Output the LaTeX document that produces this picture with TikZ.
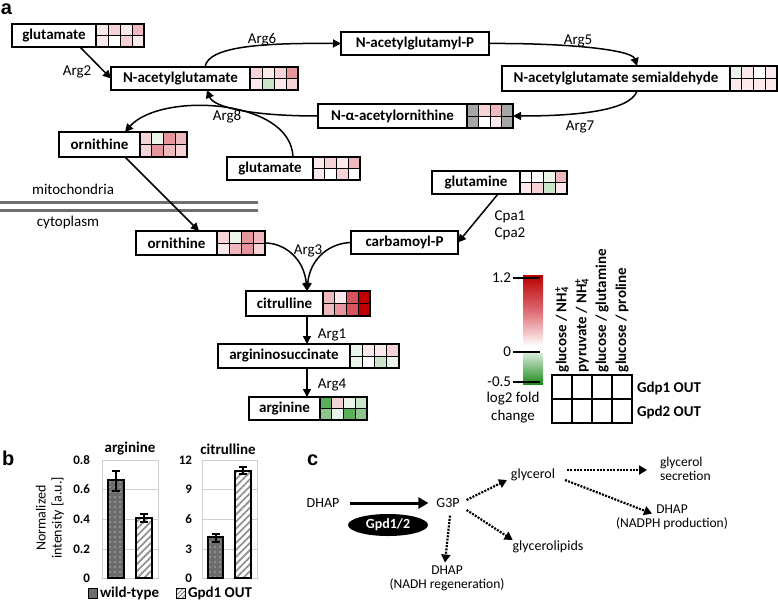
\documentclass[tikz,border=0pt]{standalone}
\usepackage{fontspec}
\setmainfont{Carlito}
\newfontfamily\lblfont{Liberation Sans}
\usetikzlibrary{arrows.meta,calc,patterns.meta,shapes.geometric}
\definecolor{r0}{HTML}{FFFFFF}
\definecolor{r1}{HTML}{FBE9EB}
\definecolor{r2}{HTML}{F5D3D6}
\definecolor{r3}{HTML}{EEB8BC}
\definecolor{r4}{HTML}{E5959B}
\definecolor{r5}{HTML}{D8535B}
\definecolor{r6}{HTML}{C00000}
\definecolor{g1}{HTML}{EAF4EA}
\definecolor{g2}{HTML}{CBE5CB}
\definecolor{g3}{HTML}{8DC68D}
\definecolor{g4}{HTML}{5AAE5A}
\definecolor{gr}{HTML}{A6A6A6}
\definecolor{membc}{HTML}{6E6E6E}
\definecolor{gridc}{HTML}{D0D0D0}
\definecolor{wtc}{HTML}{6E6B6B}
\definecolor{barT}{HTML}{B80000}
\definecolor{barM}{HTML}{DE6A72}
\definecolor{barG1}{HTML}{D8ECD8}
\definecolor{barG2}{HTML}{1F8A1F}
\newcommand\metab[6]{\node[mbox, minimum width={#3-#2}, minimum height={#5-#4}] (#1) at ({(#2+#3)/2},{(#4+#5)/2}) {#6};}
\newcommand\hmap[5]{%
  \foreach \c [count=\i from 0] in {#5}{%
    \pgfmathtruncatemacro\cc{mod(\i,4)}%
    \pgfmathtruncatemacro\rr{floor(\i/4)}%
    \fill[\c] ({#1+\cc*(#2-#1)/4},{#3+\rr*(#4-#3)/2}) rectangle ++({(#2-#1)/4},{(#4-#3)/2});
  }%
  \draw[line width=0.8pt] (#1,{(#3+#4)/2}) -- (#2,{(#3+#4)/2});
  \foreach \k in {1,2,3}{\draw[line width=0.8pt] ({#1+\k*(#2-#1)/4},#3) -- ({#1+\k*(#2-#1)/4},#4);}
  \draw[line width=1.5pt] (#1,#3) rectangle (#2,#4);
}
\begin{document}
\begin{tikzpicture}[x=1pt,y=-1pt,
  every node/.style={inner sep=0pt, outer sep=0pt},
  mbox/.style={draw, line width=1.5pt, fill=white, font=\fontsize{15}{17}\selectfont\bfseries},
  lab/.style={font=\fontsize{15}{15}\selectfont},
  clab/.style={font=\fontsize{14}{14}\selectfont},
  boldlab/.style={font=\fontsize{15}{17}\selectfont\bfseries},
  ticklab/.style={font=\fontsize{13}{14}\selectfont\bfseries, anchor=east},
  panel/.style={font=\lblfont\fontsize{20}{20}\selectfont\bfseries, anchor=base west},
  rxn/.style={line width=1.5pt, -{Triangle[length=8pt,width=8pt]}},
  memb/.style={line width=3pt, membc},
  tick/.style={line width=1.5pt},
  gframe/.style={gridc, line width=1pt},
  barout/.style={line width=2pt},
  wtpat/.style={pattern={Dots[distance=5pt,radius=0.55pt]}, pattern color=white},
  hatch/.style={pattern={Lines[angle=45,distance=5pt,line width=1.8pt]}, pattern color=gray!85},
  errb/.style={line width=2pt},
  bigarrow/.style={line width=3pt, -{Triangle[length=10pt,width=11pt]}},
  dotarrow/.style={line width=2.2pt, dash pattern=on 2pt off 1.3pt, -{Triangle[length=8pt,width=9pt]}},
  twoline/.style={font=\fontsize{13.5}{14}\selectfont}
]
\useasboundingbox (0,0) rectangle (778,602);

% ---------- panel a ----------
\node[panel] (pa) at (1,15) {a};

\metab{gluA}{12}{96}{24}{47}{glutamate}
\hmap{96}{144}{24}{47}{r1,r2,r1,r3,r1,r0,r2,r1}
\metab{nag}{111}{250}{67}{90}{N-acetylglutamate}
\hmap{250}{298}{67}{90}{r2,r1,r2,r4,r1,g2,r1,r2}
\metab{nagp}{341}{489}{32}{55}{N-acetylglutamyl-P}
\metab{nags}{502}{730}{66}{91}{N-acetylglutamate semialdehyde}
\hmap{730}{777}{66}{91}{g1,r1,r0,r1,r1,r1,r1,r1}
\metab{naao}{318}{467}{104}{128}{N-α-acetylornithine}
\hmap{467}{513}{104}{128}{gr,r2,r3,gr,gr,r0,r1,gr}
\metab{ornM}{59}{140}{132}{157}{ornithine}
\hmap{140}{187}{132}{157}{r2,g1,r4,r3,r2,r4,r3,r2}
\metab{gluB}{227}{313}{157}{180}{glutamate}
\hmap{313}{360}{157}{180}{r1,r2,r1,r3,r1,r0,r2,r0}
\metab{gln}{432}{520}{171}{194}{glutamine}
\hmap{520}{567}{171}{194}{r0,r0,g1,r3,r1,r2,g2,r1}
\metab{carb}{351}{458}{231}{254}{carbamoyl-P}
\metab{ornC}{136}{217}{231}{255}{ornithine}
\hmap{217}{265}{231}{255}{r2,g1,r4,r3,r1,r3,r4,r2}
\metab{cit}{246}{323}{291}{316}{citrulline}
\hmap{323}{370}{291}{316}{r3,r1,r5,r6,r3,r4,r5,r6}
\metab{asuc}{218}{350}{344}{368}{argininosuccinate}
\hmap{350}{399}{344}{368}{g1,r1,r1,r2,g1,r0,g2,g1}
\metab{arg}{249}{320}{397}{420}{arginine}
\hmap{320}{367}{397}{420}{g4,r2,g1,g2,g3,g1,g4,g3}

% membranes
\draw[memb] (0,202) -- (258,202);
\draw[memb] (0,210) -- (258,210);
\node[lab] (mito) at (73,189) {mitochondria};
\node[lab] (cyto) at (68,222) {cytoplasm};

% reactions
\draw[rxn] ($(gluA.south west)+(68,0)$) -- (nag.west);
\draw[rxn] ($(nag.north west)+(94,0)$) .. controls (208,45) and (270,43) .. (nagp.west);
\draw[rxn] (nagp.east) .. controls (570,43) and (632,50) .. ($(nags.north west)+(135,0)$);
\draw[rxn] ($(nags.south west)+(135,0)$) .. controls (630,112) and (570,116) .. ($(naao.east)+(46,0)$);
\draw[rxn] (naao.west) .. controls (255,116) and (214,108) .. ($(nag.south west)+(96,0)$);
\draw[rxn] ($(gluB.north west)+(66,0)$) .. controls (291,98) and (160,92) .. ($(ornM.north west)+(66,0)$);
\draw[rxn] ($(ornM.south west)+(66,0)$) -- ($(ornC.north west)+(63,0)$);
\draw[rxn] ($(gln.south west)+(66,0)$) -- (carb.east);
\coordinate (c3) at ($(cit.north west)+(61,0)$);
\draw[rxn] ($(ornC.east)+(48,0)$) .. controls (284,243) and (304,258) .. (c3);
\draw[rxn] (carb.west) .. controls (330,243) and (310,258) .. (c3);
\draw[rxn] ($(cit.south west)+(61,0)$) -- ($(asuc.north west)+(89,0)$);
\draw[rxn] ($(asuc.south west)+(89,0)$) -- ($(arg.north west)+(58,0)$);

\node[lab] (l2) at (77,72) {Arg2};
\node[lab] (l6) at (262,40) {Arg6};
\node[lab] (l5) at (578,41) {Arg5};
\node[lab] (l7) at (580,127) {Arg7};
\node[lab] (l8) at (227,117) {Arg8};
\node[lab] (l3) at (308,251) {Arg3};
\node[lab] (l1) at (332,335) {Arg1};
\node[lab] (l4) at (332,385) {Arg4};
\node[lab] (lc1) at (510,217) {Cpa1};
\node[lab] (lc2) at (510,234) {Cpa2};

% legend colour bar
\shade[top color=barT, bottom color=white, middle color=barM] (523,275) rectangle (543,346);
\fill[white] (523,346) rectangle (543,353);
\shade[top color=barG1, bottom color=barG2] (523,353) rectangle (543,384);
\draw[tick] (513,278) -- (540,278);
\draw[tick] (513,352) -- (540,352);
\draw[tick] (513,382) -- (540,382);
\node[lab, anchor=east] (t12) at (511,278) {1.2};
\node[lab, anchor=east] (t0) at (511,352) {0};
\node[lab, anchor=east] (t05) at (511,382) {-0.5};
\node[lab] (lfc1) at (513,399) {log2 fold};
\node[lab] (lfc2) at (513,417) {change};

\draw[tick] (552,375) rectangle (632,423);
\draw[tick] (572,375) -- (572,423);
\draw[tick] (592,375) -- (592,423);
\draw[tick] (612,375) -- (612,423);
\draw[tick] (552,399) -- (632,399);
\node[boldlab, rotate=90, anchor=west] (cl1) at (562,372) {glucose / NH\textsubscript{4}\llap{\textsuperscript{+}}};
\node[boldlab, rotate=90, anchor=west] (cl2) at (582,372) {pyruvate / NH\textsubscript{4}\llap{\textsuperscript{+}}};
\node[boldlab, rotate=90, anchor=west] (cl3) at (602,372) {glucose / glutamine};
\node[boldlab, rotate=90, anchor=west] (cl4) at (622,372) {glucose / proline};
\node[boldlab, anchor=west] (rw1) at (637,388) {Gdp1 OUT};
\node[boldlab, anchor=west] (rw2) at (637,412) {Gpd2 OUT};

% ---------- panel b ----------
\node[panel] (pb) at (2,465) {b};
\node[boldlab] (tb1) at (130,449) {arginine};
\node[boldlab] (tb2) at (228,449) {citrulline};
\node[font=\fontsize{14}{16}\selectfont, rotate=90, align=center] (ytit) at (50,518) {Normalized\\intensity [a.u.]};

\draw[gframe] (102,460) rectangle (158,578);
\draw[gframe] (202,460) rectangle (257,578);
\foreach \yy in {489,519,549}{
  \draw[gframe] (102,\yy) -- (158,\yy);
  \draw[gframe] (202,\yy) -- (257,\yy);
}
\node[ticklab] (a08) at (90,460) {0.8};
\node[ticklab] (a06) at (90,489) {0.6};
\node[ticklab] (a04) at (90,519) {0.4};
\node[ticklab] (a02) at (90,549) {0.2};
\node[ticklab] (a00) at (90,578) {0};
\node[ticklab] (b12) at (192,460) {12};
\node[ticklab] (b9) at (192,489) {9};
\node[ticklab] (b6) at (192,519) {6};
\node[ticklab] (b3) at (192,549) {3};
\node[ticklab] (b0) at (192,578) {0};

% bars
\fill[wtc] (108,480) rectangle (124,578);
\fill[wtpat] (108,480) rectangle (124,578);
\draw[barout] (108,480) rectangle (124,578);
\fill[white] (136,518) rectangle (152,578);
\fill[hatch] (136,518) rectangle (152,578);
\draw[barout] (136,518) rectangle (152,578);
\fill[wtc] (208,537) rectangle (223,578);
\fill[wtpat] (208,537) rectangle (223,578);
\draw[barout] (208,537) rectangle (223,578);
\fill[white] (235,471) rectangle (251,578);
\fill[hatch] (235,471) rectangle (251,578);
\draw[barout] (235,471) rectangle (251,578);

% error bars
\draw[errb] (116,471) -- (116,491) (112,471) -- (120,471) (112,491) -- (120,491);
\draw[errb] (144,514) -- (144,522) (140,514) -- (148,514) (140,522) -- (148,522);
\draw[errb] (215.5,534) -- (215.5,542) (211.5,534) -- (219.5,534) (211.5,542) -- (219.5,542);
\draw[errb] (243,467) -- (243,474) (239,467) -- (247,467) (239,474) -- (247,474);

% legend
\fill[wtc] (88,588) rectangle (97,598);
\draw[line width=1pt] (88,588) rectangle (97,598);
\node[boldlab, anchor=west] (lgw) at (100,593) {wild-type};
\fill[white] (176,588) rectangle (185,598);
\fill[pattern={Lines[angle=45,distance=3pt,line width=1pt]}, pattern color=gray] (176,588) rectangle (185,598);
\draw[line width=1pt] (176,588) rectangle (185,598);
\node[boldlab, anchor=west] (lgg) at (188,593) {Gpd1 OUT};

% ---------- panel c ----------
\node[panel] (pc) at (307,465) {c};
\node[clab] (dh1) at (323,503) {DHAP};
\node[clab] (g3p) at (448,503) {G3P};
\node[ellipse, fill=black, minimum width=80, minimum height=22, text=white, font=\fontsize{14}{16}\selectfont\bfseries] (gpd) at (388,525) {Gpd1/2};
\node[clab] (glyc) at (533,475) {glycerol};
\node[twoline, align=left, anchor=west] (sec) at (660,469) {glycerol\\secretion};
\node[twoline, align=center] (dh2) at (672,517) {DHAP\\(NADPH production)};
\node[clab] (glip) at (548,547) {glycerolipids};
\node[twoline, align=center] (dh3) at (447,578) {DHAP\\(NADH regeneration)};

\draw[bigarrow] ($(dh1.east)+(11,0)$) -- ($(g3p.west)+(-8,0)$);
\draw[dotarrow] ($(g3p.east)+(7,-3)$) -- ($(glyc.west)+(-4,5)$);
\draw[dotarrow] ($(g3p.east)+(7,7)$) -- ($(glip.north west)+(0,-1)$);
\draw[dotarrow] ($(g3p.south)+(2,8)$) -- ($(dh3.north)+(-2,-3)$);
\draw[dotarrow] ($(glyc.east)+(12,-5)$) -- ($(sec.west)+(-13,1)$);
\draw[dotarrow] ($(glyc.east)+(10,5)$) -- ($(dh2.north)+(-20,9)$);
\end{tikzpicture}
\end{document}
